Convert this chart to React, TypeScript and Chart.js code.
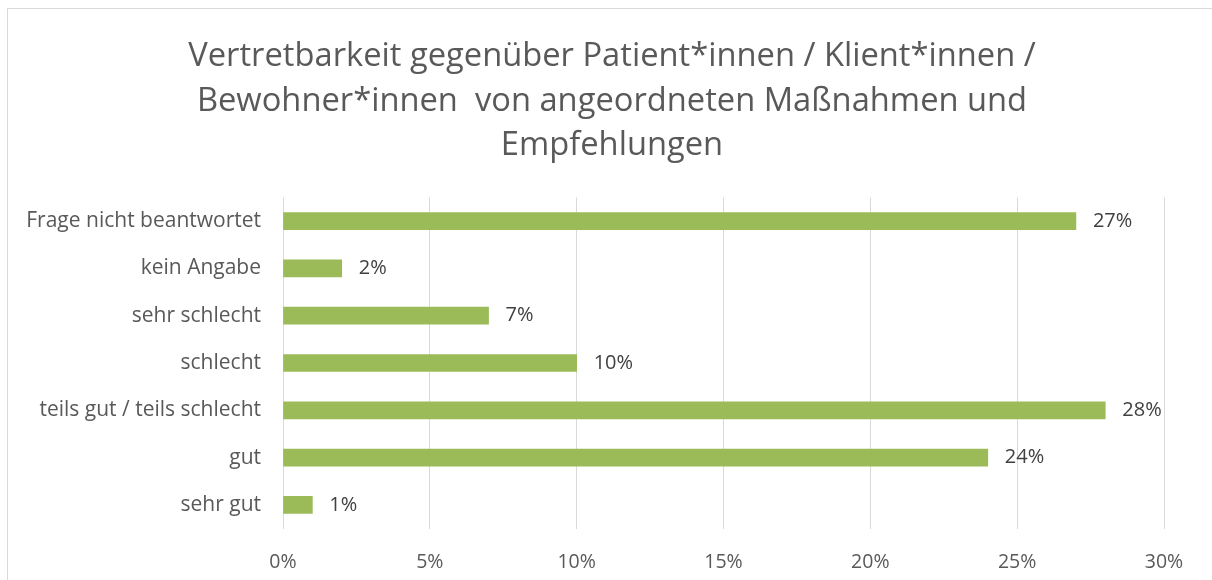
import React, { useEffect, useRef } from "react";
import { Chart, registerables } from "chart.js";

Chart.register(...registerables);

const titleLines = [
  "Vertretbarkeit gegenüber Patient*innen / Klient*innen /",
  "Bewohner*innen  von angeordneten Maßnahmen und",
  "Empfehlungen",
];
const categories = [
  "Frage nicht beantwortet",
  "kein Angabe",
  "sehr schlecht",
  "schlecht",
  "teils gut / teils schlecht",
  "gut",
  "sehr gut",
];
const values = [27, 2, 7, 10, 28, 24, 1];
const xMin = 0;
const xMax = 30;
const xStep = 5;

const FONT = "'Open Sans', sans-serif";

const valueLabels = {
  id: "valueLabels",
  afterDatasetsDraw(chart: any) {
    const ctx = chart.ctx;
    const meta = chart.getDatasetMeta(0);
    ctx.save();
    ctx.font = `20px ${FONT}`;
    ctx.fillStyle = "#404040";
    ctx.textAlign = "left";
    ctx.textBaseline = "middle";
    meta.data.forEach((bar: any, i: number) => {
      ctx.fillText(values[i] + "%", bar.x + 17, bar.y);
    });
    ctx.restore();
  },
};

export default function App() {
  const ref = useRef<HTMLCanvasElement>(null);
  useEffect(() => {
    if (!ref.current) return;
    const chart = new Chart(ref.current, {
      type: "bar",
      data: {
        labels: categories,
        datasets: [
          {
            data: values,
            backgroundColor: "#9BBB59",
            borderWidth: 0,
            barThickness: 17,
          },
        ],
      },
      options: {
        indexAxis: "y",
        responsive: false,
        animation: false,
        layout: { padding: { left: 0, right: 0, top: 0, bottom: 0 } },
        plugins: {
          legend: { display: false },
          tooltip: { enabled: false },
          title: {
            display: true,
            text: titleLines,
            color: "#595959",
            font: { family: FONT, size: 32.7, weight: "normal", lineHeight: 1.37 },
            padding: { top: 25, bottom: 29 },
          },
        },
        scales: {
          x: {
            min: xMin,
            max: xMax,
            ticks: {
              stepSize: xStep,
              callback: (v: any) => v + "%",
              color: "#595959",
              font: { family: FONT, size: 19.5 },
              padding: 22.5,
            },
            grid: { color: "#d9d9d9", drawTicks: false },
            border: { display: false },
          },
          y: {
            afterFit: (s: any) => {
              s.width = 275;
            },
            ticks: {
              color: "#595959",
              font: { family: FONT, size: 21 },
              padding: 22,
            },
            grid: { display: false, drawTicks: false },
            border: { display: false },
          },
          yRight: {
            type: "category",
            position: "right",
            afterFit: (s: any) => {
              s.width = 52;
            },
            ticks: { display: false },
            grid: { display: false, drawTicks: false },
            border: { display: false },
          },
        },
      },
      plugins: [valueLabels],
    });
    return () => chart.destroy();
  }, []);
  return (
    <div
      style={{
        position: "absolute",
        left: 7,
        top: 8,
        width: 1210,
        height: 590,
        border: "1px solid #d9d9d9",
        boxSizing: "border-box",
        background: "#fff",
      }}
    >
      <canvas ref={ref} width={1208} height={588} style={{ display: "block" }} />
    </div>
  );
}
